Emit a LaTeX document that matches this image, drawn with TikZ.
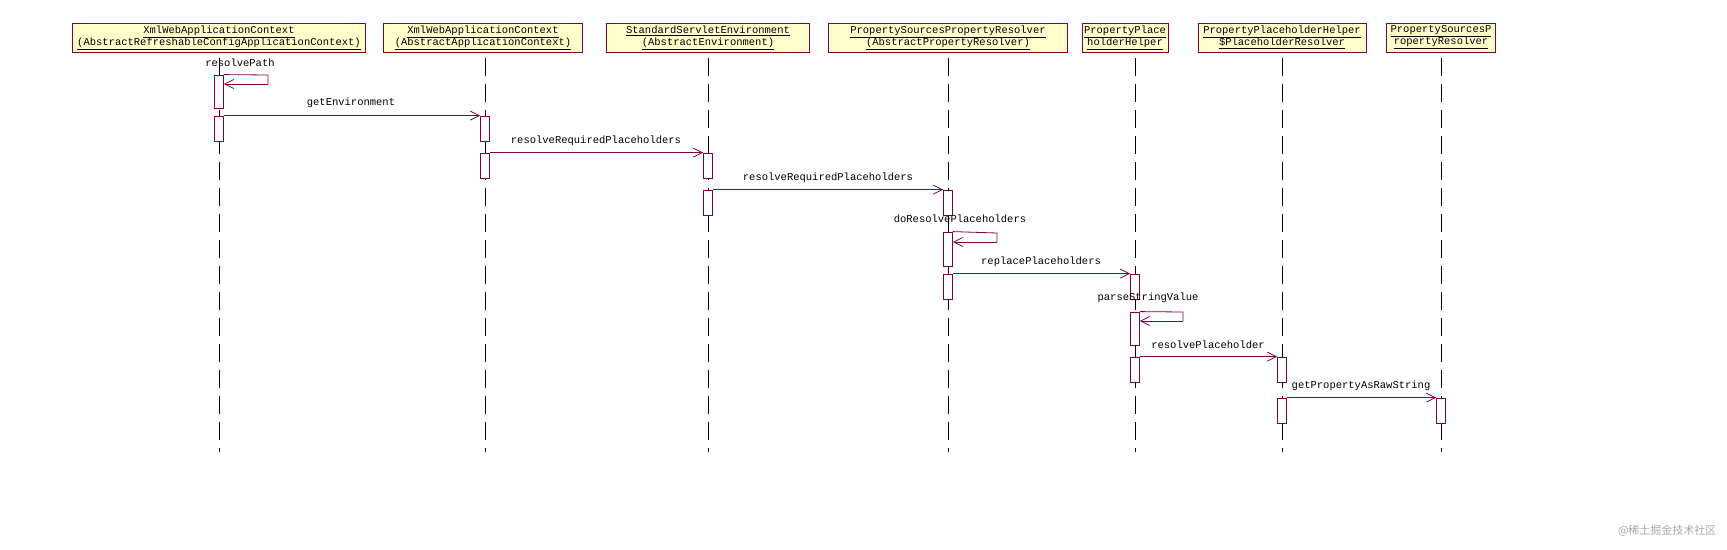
\documentclass[tikz,border=0pt]{standalone}
\usepackage{fontspec}
\setmainfont{Liberation Mono}
\newfontfamily\cjk{Noto Sans CJK SC}
\usetikzlibrary{arrows.meta}
\definecolor{uml}{HTML}{800040}
\begin{document}
\begin{tikzpicture}[x=1pt,y=-1pt,
  hdr/.style={draw=uml,fill={rgb,255:red,255;green,255;blue,204},line width=0.9pt,align=center,inner sep=2pt,font=\fontsize{10.5}{12}\selectfont,minimum height=29pt},
  life/.style={black,line width=0.7pt,dash pattern=on 18pt off 8pt},
  act/.style={draw=uml,fill=white,line width=0.8pt,minimum width=9pt,inner sep=0pt},
  msg/.style={uml,line width=0.8pt,-{Straight Barb[length=9pt,width=9pt]}},
  lbl/.style={font=\fontsize{10.5}{12}\selectfont,inner sep=0pt}]
\useasboundingbox (0,0) rectangle (1727,549);
\node[hdr,minimum width=293pt] (h1) at (219,37.5) {\underline{XmlWebApplicationContext}\\\underline{(AbstractRefreshableConfigApplicationContext)}};
\node[hdr,minimum width=199pt] (h2) at (483,37.5) {\underline{XmlWebApplicationContext}\\\underline{(AbstractApplicationContext)}};
\node[hdr,minimum width=203pt] (h3) at (708,37.5) {\underline{StandardServletEnvironment}\\\underline{(AbstractEnvironment)}};
\node[hdr,minimum width=239pt] (h4) at (948,37.5) {\underline{PropertySourcesPropertyResolver}\\\underline{(AbstractPropertyResolver)}};
\node[hdr,minimum width=72pt] (h5) at (1125,37.5) {\underline{PropertyPlace}\\\underline{holderHelper}};
\node[hdr,minimum width=168pt] (h6) at (1282,37.5) {\underline{PropertyPlaceholderHelper}\\\underline{\$PlaceholderResolver}};
\node[hdr,minimum width=109pt] (h7) at (1441,37.5) {\underline{PropertySourcesP}\\\underline{ropertyResolver}};
\foreach \x/\n in {219/1,485/2,708/3,948/4,1135/5,1282/6,1441/7}{
  \coordinate (t\n) at (\x,58); \coordinate (b\n) at (\x,452);
  \draw[life] (t\n) -- (b\n);}
% activations
\node[act,minimum height=33pt] (a1) at (219,91.5) {};
\node[act,minimum height=25pt] (a1b) at (219,128.5) {};
\node[act,minimum height=25pt] (a2) at (485,128.5) {};
\node[act,minimum height=25pt] (a2b) at (485,165.5) {};
\node[act,minimum height=25pt] (a3) at (708,165.5) {};
\node[act,minimum height=25pt] (a3b) at (708,202.5) {};
\node[act,minimum height=25pt] (a4) at (948,202.5) {};
\node[act,minimum height=34pt] (a4s) at (948,249) {};
\node[act,minimum height=25pt] (a4b) at (948,286.5) {};
\node[act,minimum height=25pt] (a5) at (1135,286.5) {};
\node[act,minimum height=33pt] (a5s) at (1135,328.5) {};
\node[act,minimum height=25pt] (a5b) at (1135,369.5) {};
\node[act,minimum height=25pt] (a6) at (1282,369.5) {};
\node[act,minimum height=25pt] (a6b) at (1282,410.5) {};
\node[act,minimum height=25pt] (a7) at (1441,410.5) {};
% self calls
\coordinate (l1) at (268,75); \coordinate (l1b) at (268,84);
\draw[uml,line width=0.8pt] (a1.north east) ++(0,0) -- (l1) -- (l1b);
\draw[msg] (l1b) -- (a1.east |- l1b);
\node[lbl] (m1) at (240,63) {resolvePath};
\coordinate (l2) at (997,233); \coordinate (l2b) at (997,242);
\draw[uml,line width=0.8pt] (a4s.north east) -- (l2) -- (l2b);
\draw[msg] (l2b) -- (a4s.east |- l2b);
\node[lbl] (m5) at (960,219) {doResolvePlaceholders};
\coordinate (l3) at (1183,312); \coordinate (l3b) at (1183,321);
\draw[uml,line width=0.8pt] (a5s.north east) -- (l3) -- (l3b);
\draw[msg] (l3b) -- (a5s.east |- l3b);
\node[lbl] (m7) at (1148,298) {parseStringValue};
% calls
\draw[msg] (a1b.north east) -- (a2.north west);
\node[lbl] (m2) at (351,103) {getEnvironment};
\draw[msg] (a2b.north east) -- (a3.north west);
\node[lbl] (m3) at (596,141) {resolveRequiredPlaceholders};
\draw[msg] (a3b.north east) -- (a4.north west);
\node[lbl] (m4) at (828,178) {resolveRequiredPlaceholders};
\draw[msg] (a4b.north east) -- (a5.north west);
\node[lbl] (m6) at (1041,262) {replacePlaceholders};
\draw[msg] (a5b.north east) -- (a6.north west);
\node[lbl] (m8) at (1208,345) {resolvePlaceholder};
\draw[msg] (a6b.north east) -- (a7.north west);
\node[lbl] (m9) at (1361,386) {getPropertyAsRawString};
\node[font=\cjk\fontsize{11}{12}\selectfont,text=black!35,anchor=east] (wm) at (1720,531) {@稀土掘金技术社区};
\end{tikzpicture}
\end{document}
